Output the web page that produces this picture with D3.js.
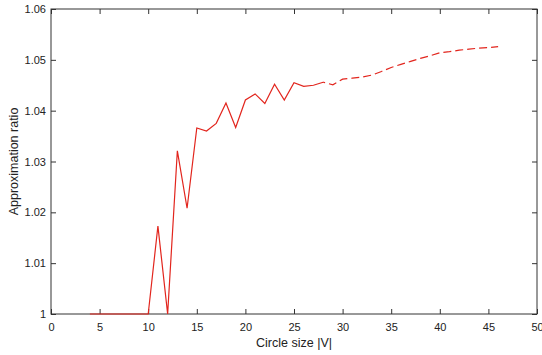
<!DOCTYPE html>
<html>
<head>
<meta charset="utf-8">
<script src="https://cdn.jsdelivr.net/npm/d3@7"></script>
<style>
  body { margin: 0; background: #fff; }
  svg { font-family: "Liberation Sans", Arial, sans-serif; }
</style>
</head>
<body>
<div id="chart"></div>
<script>
// Valores
const sizesSolid = [4, 5, 6, 7, 8, 9, 10, 11, 12, 13, 14, 15, 16, 17, 18, 19, 20, 21, 22, 23, 24, 25, 26, 27, 28];
const ratiosSolid = [1.0, 1.0, 1.0, 1.0, 1.0, 1.0, 1.0, 1.0173, 1.0, 1.0321, 1.0208, 1.0366, 1.0360, 1.0375, 1.0415, 1.0367,
  1.0421, 1.0433, 1.0414, 1.0452, 1.0421, 1.0455, 1.0448, 1.0450, 1.0456];
const sizesDashed = [28, 29, 30, 31, 32, 33, 34, 35, 36, 37, 38, 39, 40, 41, 42, 43, 44, 45, 46];
const ratiosDashed = [1.0456, 1.0451, 1.0462, 1.0464, 1.0466, 1.0470, 1.0477, 1.0485, 1.0491, 1.0497, 1.0503, 1.0508,
  1.0514, 1.0516, 1.0519, 1.0521, 1.0523, 1.0524, 1.0526];
const xTicks = [0, 5, 10, 15, 20, 25, 30, 35, 40, 45, 50];
const yTicks = [1, 1.01, 1.02, 1.03, 1.04, 1.05, 1.06];

const WIDTH = 542, HEIGHT = 355;
const margin = { top: 9, right: 5, bottom: 41, left: 51 };
const innerW = WIDTH - margin.left - margin.right;
const innerH = HEIGHT - margin.top - margin.bottom;
const LINE_COLOR = "#e2251d";

const svg = d3.select("#chart").append("svg")
  .attr("width", WIDTH).attr("height", HEIGHT);
const g = svg.append("g").attr("transform", `translate(${margin.left},${margin.top})`);

const x = d3.scaleLinear().domain([0, 50]).range([0, innerW]);
const y = d3.scaleLinear().domain([1, 1.06]).range([innerH, 0]);

const fmtY = d => d === 1 ? "1" : d3.format(".2f")(d);

// Ejes con ticks hacia adentro (estilo MATLAB)
function styleAxis(sel) {
  sel.select(".domain").remove();
  sel.selectAll(".tick line").attr("stroke", "#333");
  sel.selectAll(".tick text").attr("fill", "#222").style("font-size", "11px");
}
g.append("g").attr("transform", `translate(0,${innerH})`)
  .call(d3.axisBottom(x).tickValues(xTicks).tickSizeInner(-5).tickSizeOuter(0).tickPadding(9))
  .call(styleAxis);
g.append("g")
  .call(d3.axisLeft(y).tickValues(yTicks).tickFormat(fmtY).tickSizeInner(-5).tickSizeOuter(0).tickPadding(5))
  .call(styleAxis);
g.append("g")
  .call(d3.axisTop(x).tickValues(xTicks).tickFormat("").tickSizeInner(-5).tickSizeOuter(0))
  .call(styleAxis);
g.append("g").attr("transform", `translate(${innerW},0)`)
  .call(d3.axisRight(y).tickValues(yTicks).tickFormat("").tickSizeInner(-5).tickSizeOuter(0))
  .call(styleAxis);

// Marco
g.append("rect").attr("width", innerW).attr("height", innerH)
  .attr("fill", "none").attr("stroke", "#333").attr("stroke-width", 1);

const line = d3.line().x(d => x(d[0])).y(d => y(d[1]));

g.append("path")
  .datum(sizesSolid.map((s, i) => [s, ratiosSolid[i]]))
  .attr("d", line)
  .attr("fill", "none").attr("stroke", LINE_COLOR).attr("stroke-width", 1.2);

g.append("path")
  .datum(sizesDashed.map((s, i) => [s, ratiosDashed[i]]))
  .attr("d", line)
  .attr("fill", "none").attr("stroke", LINE_COLOR).attr("stroke-width", 1.2)
  .attr("stroke-dasharray", "8,4").attr("stroke-dashoffset", 6);

// Etiquetas de los ejes
svg.append("text")
  .attr("x", margin.left + innerW / 2).attr("y", 347)
  .attr("text-anchor", "middle").style("font-size", "12.5px").attr("fill", "#222")
  .text("Circle size |V|");
svg.append("text")
  .attr("transform", `translate(18,${margin.top + innerH / 2}) rotate(-90)`)
  .attr("text-anchor", "middle").style("font-size", "12.5px").attr("fill", "#222")
  .text("Approximation ratio");
</script>
</body>
</html>
